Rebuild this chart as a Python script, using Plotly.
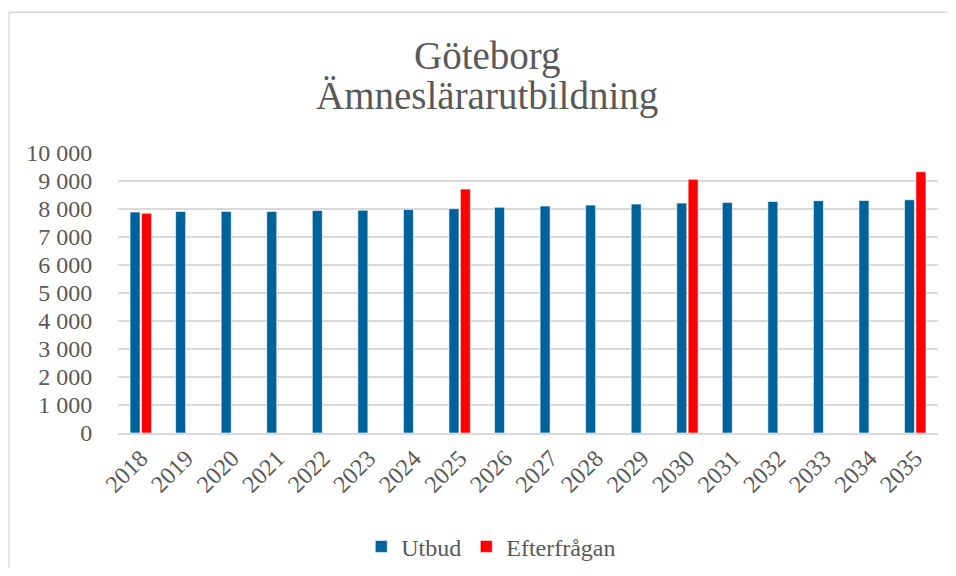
import plotly.graph_objects as go

years = [str(y) for y in range(2018, 2036)]
utbud = [7890, 7915, 7915, 7915, 7945, 7955, 7980, 8010, 8060, 8105,
         8140, 8175, 8210, 8235, 8270, 8295, 8305, 8330]
efterfragan = [7850, None, None, None, None, None, None, 8710, None, None,
               None, None, 9060, None, None, None, None, 9330]
title_lines = ["Göteborg", "Ämneslärarutbildning"]

FONT = "Liberation Serif"
GREY = "#595959"
OFF = 8  # browser body margin
W, H = 956 - 2 * OFF, 576 - 2 * OFF
L, R, T, B = 117.5 - OFF, 938 - OFF, 152.5 - OFF, 433 - OFF

fig = go.Figure()
fig.add_trace(go.Bar(x=years, y=utbud, name="Utbud",
                     marker=dict(color="#00629b", line=dict(color="rgba(255,255,255,0.6)", width=1))))
fig.add_trace(go.Bar(x=years, y=efterfragan, name="Efterfrågan",
                     marker=dict(color="#ff0000", line=dict(color="rgba(255,255,255,0.6)", width=1))))

pw, ph = R - L, B - T
def px(x): return (x - OFF - L) / pw
def py(y): return (B - (y - OFF)) / ph

fig.update_layout(
    width=W, height=H,
    margin=dict(l=L, r=W - R, t=T, b=H - B, pad=0, autoexpand=False),
    paper_bgcolor="white", plot_bgcolor="white",
    barmode="group", bargap=0.5, bargroupgap=0.12,
    separators=", ",
    font=dict(family=FONT, color=GREY, size=24),
    legend=dict(orientation="h", x=px(491), xanchor="center", y=py(547), yanchor="middle",
                font=dict(size=24, color=GREY, family=FONT), itemwidth=30, traceorder="normal"),
    showlegend=True,
)
fig.add_annotation(text=title_lines[0], xref="paper", yref="paper", x=px(487), y=py(71),
                   xanchor="center", yanchor="bottom", yshift=-8, showarrow=False,
                   font=dict(size=39, color=GREY, family=FONT))
fig.add_annotation(text=title_lines[1], xref="paper", yref="paper", x=px(487), y=py(111),
                   xanchor="center", yanchor="bottom", yshift=-8, showarrow=False,
                   font=dict(size=39, color=GREY, family=FONT))
fig.update_yaxes(range=[0, 10000], dtick=1000, tickformat=",d", showgrid=True,
                 gridcolor="#d9d9d9", gridwidth=1.5, zeroline=False,
                 showline=False, ticks="outside", ticklen=20, tickcolor="rgba(0,0,0,0)",
                 tickfont=dict(size=24, color=GREY, family=FONT), fixedrange=True)
fig.update_xaxes(tickangle=-45, showline=True, linecolor="#d9d9d9", linewidth=1.5,
                 ticks="", tickfont=dict(size=24, color=GREY, family=FONT), showgrid=False)

# outer chart border: only top and left edges are visible in the reference
fig.add_shape(type="line", xref="paper", yref="paper",
              x0=px(8.5), x1=px(956), y0=py(11.5), y1=py(11.5),
              line=dict(color="#d9d9d9", width=1.5), layer="below")
fig.add_shape(type="line", xref="paper", yref="paper",
              x0=px(8.5), x1=px(8.5), y0=py(11.5), y1=py(576),
              line=dict(color="#d9d9d9", width=1.5), layer="below")

fig.write_html("out.html")
